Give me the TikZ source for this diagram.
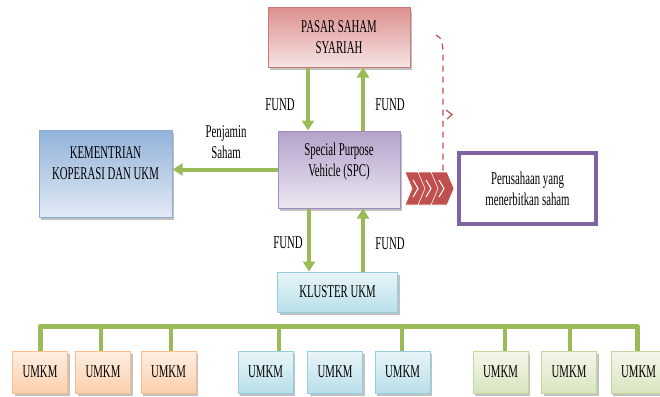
\documentclass[tikz,border=0pt]{standalone}
\usepackage{fontspec}
\setmainfont{Liberation Serif}[FakeStretch=0.6]
\usetikzlibrary{arrows.meta}
\usetikzlibrary{shadows}
\usetikzlibrary{calc}
\definecolor{fundGreen}{RGB}{155,187,89}
\definecolor{chevRed}{RGB}{192,80,77}
\definecolor{perPurple}{RGB}{128,100,162}
\definecolor{pasarLine}{RGB}{205,120,118}
\definecolor{pasarDark}{RGB}{220,145,143}
\definecolor{pasarLight}{RGB}{246,228,227}
\definecolor{spcLine}{RGB}{160,140,190}
\definecolor{spcDark}{RGB}{180,162,202}
\definecolor{spcLight}{RGB}{236,231,242}
\definecolor{kemLine}{RGB}{140,170,210}
\definecolor{kemDark}{RGB}{145,178,217}
\definecolor{kemLight}{RGB}{226,234,245}
\definecolor{bluLine}{RGB}{150,205,220}
\definecolor{bluDark}{RGB}{185,223,233}
\definecolor{bluLight}{RGB}{232,245,249}
\definecolor{oraLine}{RGB}{250,191,143}
\definecolor{oraDark}{RGB}{251,207,172}
\definecolor{oraLight}{RGB}{254,238,226}
\definecolor{grnLine}{RGB}{196,215,158}
\definecolor{grnDark}{RGB}{216,229,190}
\definecolor{grnLight}{RGB}{243,247,234}

\begin{document}
\begin{tikzpicture}[x=1pt,y=-1pt,
  every node/.style={font=\fontsize{18}{21}\selectfont, align=center},
  box/.style={draw, line width=1pt, inner sep=0pt,
    drop shadow={shadow xshift=2pt, shadow yshift=-3pt, fill=black!40, opacity=.6}},
  umkmor/.style={box, draw=oraLine, top color=oraLight, bottom color=oraDark},
  umkmbl/.style={box, draw=bluLine, top color=bluLight, bottom color=bluDark},
  umkmgr/.style={box, draw=grnLine, top color=grnLight, bottom color=grnDark},
  fundarrow/.style={fundGreen, line width=4pt, -{Triangle[width=12pt,length=10pt]}},
  bar/.style={fundGreen, line width=4pt, line join=round},
]
\useasboundingbox (0,0) rectangle (660,396);

% main boxes
\node[box, draw=pasarLine, top color=pasarDark, bottom color=pasarLight,
  minimum width=142pt, minimum height=59pt] (pasar) at (339,37.5) {PASAR SAHAM\\SYARIAH};
\node[box, draw=spcLine, top color=spcDark, bottom color=spcLight,
  minimum width=122pt, minimum height=77pt] (spc) at (339,169.5) {};
\node (spctext) at ([yshift=8pt]spc.center) {Special Purpose\\Vehicle (SPC)};
\node[box, draw=kemLine, top color=kemDark, bottom color=kemLight,
  minimum width=133pt, minimum height=87pt] (kem) at (105.5,173.5) {};
\node (kemtext) at ([yshift=10pt]kem.center) {KEMENTRIAN\\KOPERASI DAN UKM};
\node[draw=perPurple, line width=4pt, fill=white,
  minimum width=137pt, minimum height=71pt] (per) at (527.5,188.5) {Perusahaan yang\\menerbitkan saham};
\node[box, draw=bluLine, top color=bluLight, bottom color=bluDark,
  minimum width=120pt, minimum height=40pt] (klus) at (337.5,292) {KLUSTER UKM};

% fund flows
\draw[fundarrow] ([xshift=-31pt]pasar.south) -- ([xshift=-31pt]spc.north);
\draw[fundarrow] ([xshift=24pt]spc.north) -- ([xshift=24pt]pasar.south);
\draw[fundarrow] ([xshift=-30pt]spc.south) -- ([xshift=-30pt]spc.south |- klus.north);
\draw[fundarrow] ([xshift=24pt]spc.south |- klus.north) -- ([xshift=24pt]spc.south);
\draw[fundarrow] (spc.west) -- (kem.east |- spc.west);

\node (fundtl) at (280,105) {FUND};
\node (fundtr) at (390,105) {FUND};
\node (fundbl) at (288,243) {FUND};
\node (fundbr) at (390,244) {FUND};
\node (penjamin) at (226,142) {Penjamin\\Saham};

% chevrons and dashed link
\foreach \x in {405,418,431}{
  \fill[chevRed, draw=white, line width=.6pt] (\x,172) -- ++(16,0) -- ++(7,16.5)
    -- ++(-7,16.5) -- ++(-16,0) -- ++(7,-16.5) -- cycle;
  \draw[white, line width=1pt] (\x+8,180) -- ++(5,8.5) -- ++(-5,8.5);
}
\coordinate (dashtop) at (436,35);
\coordinate (chevtop) at (443,172);
\draw[chevRed, dash pattern=on 6pt off 5pt, line width=1.2pt]
  (dashtop) .. controls (442,37) and (443,45) .. (443,55) -- (chevtop);
\draw[chevRed, line width=1.2pt] (446,110) -- (452,114.5) -- (447,119);

% UMKM row
\foreach \n/\x/\c in {1/40/or,2/103/or,3/168.5/or,4/265.5/bl,5/335/bl,6/402.5/bl,7/500.5/gr,8/569/gr,9/638.5/gr}
  \node[umkm\c, minimum width=55pt, minimum height=42pt] (u\n) at (\x,372) {UMKM};

\coordinate (bus) at (0,326);
\draw[bar, line width=5pt] (u1.north) |- ([xshift=-1.5pt]u9.north |- bus) -- ([xshift=-1.5pt]u9.north);
\foreach \n/\dx in {2/-2,3/2.5,4/13.5,6/-0.5,7/4.5,8/1}
  \draw[bar] ([xshift=\dx pt]u\n.north) -- ([xshift=\dx pt]u\n.north |- bus);
\end{tikzpicture}
\end{document}
